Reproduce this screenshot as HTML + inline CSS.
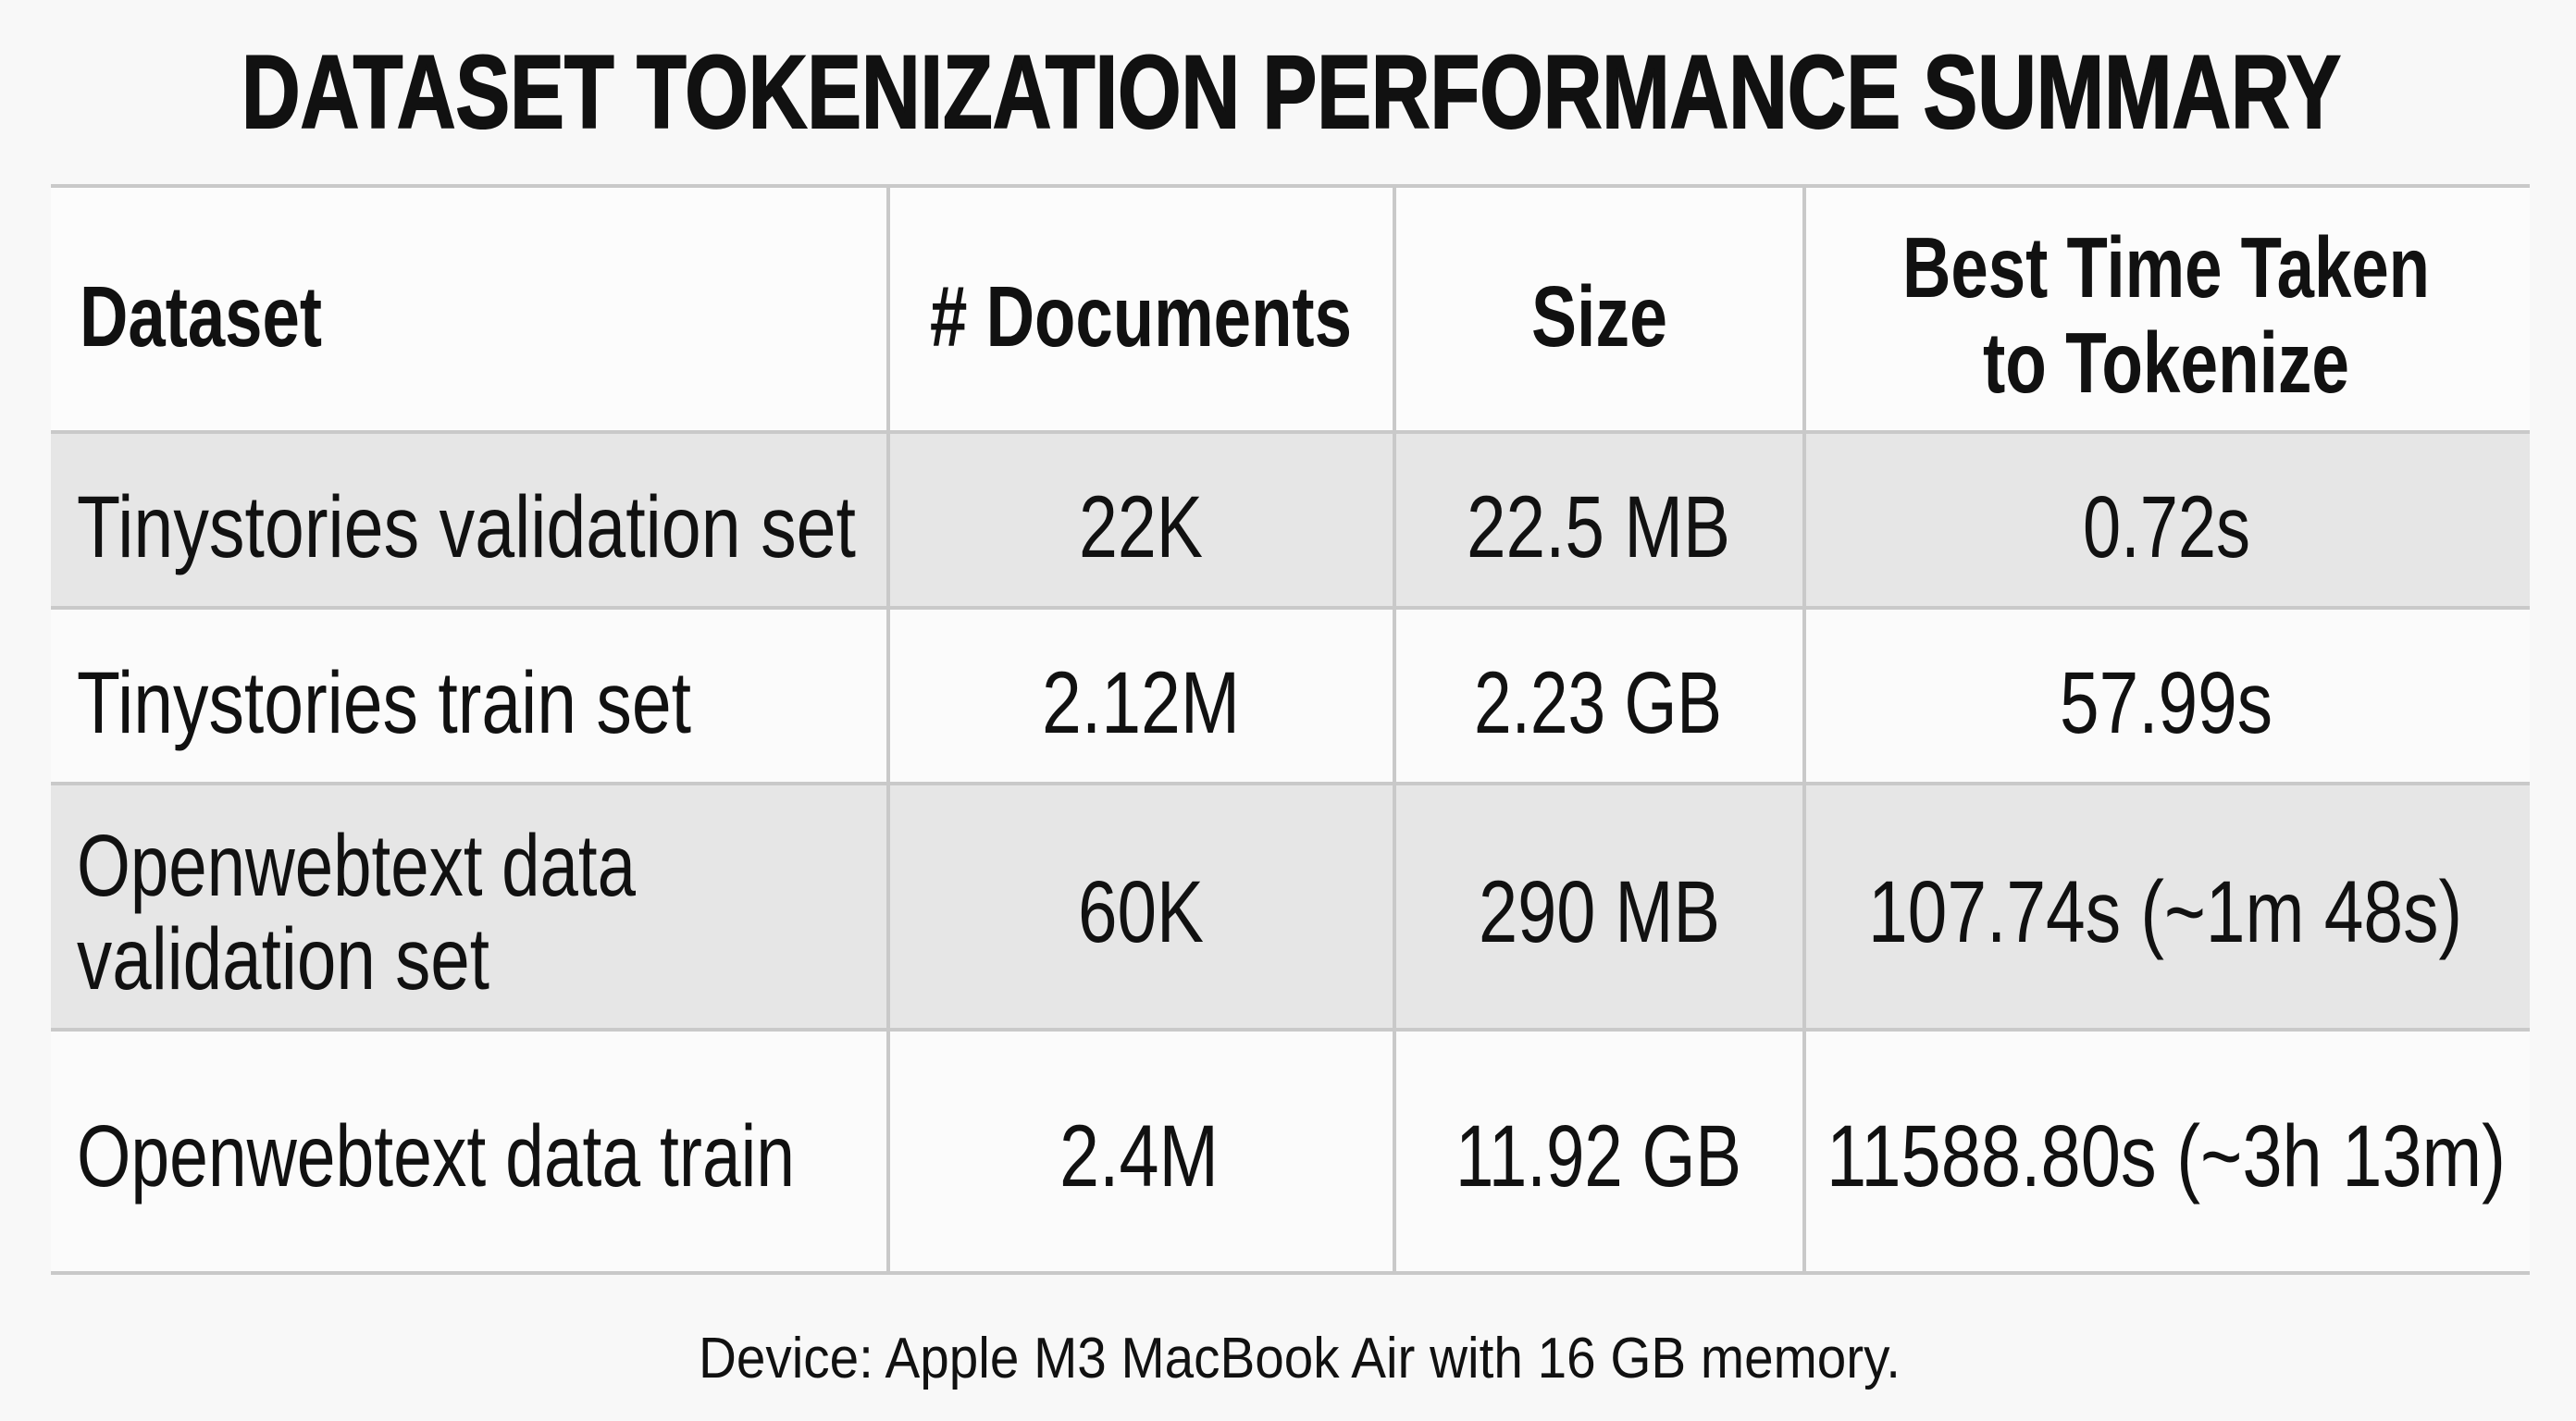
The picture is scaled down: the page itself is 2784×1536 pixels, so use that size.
<!DOCTYPE html>
<html><head><meta charset="utf-8"><style>html,body{margin:0;padding:0;background:#f8f8f8}svg{display:block}</style></head>
<body>
<svg width="2784" height="1536" viewBox="0 0 2784 1536" xmlns="http://www.w3.org/2000/svg" font-family="'Liberation Sans', sans-serif" fill="#111">
<rect x="0" y="0" width="2784" height="1536" fill="#f8f8f8"/>
<rect x="55" y="201" width="2679" height="266" fill="#fcfcfc"/>
<rect x="55" y="467" width="2679" height="190" fill="#e6e6e6"/>
<rect x="55" y="657" width="2679" height="190" fill="#fbfbfb"/>
<rect x="55" y="847" width="2679" height="266" fill="#e6e6e6"/>
<rect x="55" y="1113" width="2679" height="263" fill="#fbfbfb"/>
<g stroke="#c9c9c9" stroke-width="4">
<line x1="55" y1="201" x2="2734" y2="201"/>
<line x1="55" y1="467" x2="2734" y2="467"/>
<line x1="55" y1="657" x2="2734" y2="657"/>
<line x1="55" y1="847" x2="2734" y2="847"/>
<line x1="55" y1="1113" x2="2734" y2="1113"/>
<line x1="55" y1="1376" x2="2734" y2="1376"/>
<line x1="960" y1="201" x2="960" y2="1376"/>
<line x1="1507" y1="201" x2="1507" y2="1376"/>
<line x1="1950" y1="201" x2="1950" y2="1376"/>
</g>
<text x="261" y="138" font-size="112" font-weight="bold" textLength="2269" lengthAdjust="spacingAndGlyphs" stroke="#111" stroke-width="2">DATASET TOKENIZATION PERFORMANCE SUMMARY</text>
<g font-weight="bold" font-size="93">
<text x="86" y="374" textLength="262" lengthAdjust="spacingAndGlyphs">Dataset</text>
<text x="1005" y="374" textLength="456" lengthAdjust="spacingAndGlyphs"># Documents</text>
<text x="1655" y="374" textLength="147" lengthAdjust="spacingAndGlyphs">Size</text>
<text x="2056" y="321" textLength="570" lengthAdjust="spacingAndGlyphs">Best Time Taken</text>
<text x="2143" y="424" textLength="396" lengthAdjust="spacingAndGlyphs">to Tokenize</text>
</g>
<g font-size="95">
<text x="83" y="602" textLength="842" lengthAdjust="spacingAndGlyphs">Tinystories validation set</text>
<text x="1166" y="602" textLength="134" lengthAdjust="spacingAndGlyphs">22K</text>
<text x="1585" y="602" textLength="285" lengthAdjust="spacingAndGlyphs">22.5 MB</text>
<text x="2251" y="602" textLength="181" lengthAdjust="spacingAndGlyphs">0.72s</text>

<text x="83" y="792" textLength="664" lengthAdjust="spacingAndGlyphs">Tinystories train set</text>
<text x="1126" y="792" textLength="214" lengthAdjust="spacingAndGlyphs">2.12M</text>
<text x="1593" y="792" textLength="268" lengthAdjust="spacingAndGlyphs">2.23 GB</text>
<text x="2226" y="792" textLength="230" lengthAdjust="spacingAndGlyphs">57.99s</text>

<text x="83" y="968" textLength="604" lengthAdjust="spacingAndGlyphs">Openwebtext data</text>
<text x="83" y="1069" textLength="446" lengthAdjust="spacingAndGlyphs">validation set</text>
<text x="1165" y="1018" textLength="136" lengthAdjust="spacingAndGlyphs">60K</text>
<text x="1598" y="1018" textLength="261" lengthAdjust="spacingAndGlyphs">290 MB</text>
<text x="2019" y="1018" textLength="642" lengthAdjust="spacingAndGlyphs">107.74s (~1m 48s)</text>

<text x="83" y="1282" textLength="776" lengthAdjust="spacingAndGlyphs">Openwebtext data train</text>
<text x="1145" y="1282" textLength="172" lengthAdjust="spacingAndGlyphs">2.4M</text>
<text x="1573" y="1282" textLength="309" lengthAdjust="spacingAndGlyphs">11.92 GB</text>
<text x="1974" y="1282" textLength="734" lengthAdjust="spacingAndGlyphs">11588.80s (~3h 13m)</text>
</g>
<text x="755" y="1489" font-size="62" textLength="1299" lengthAdjust="spacingAndGlyphs">Device: Apple M3 MacBook Air with 16 GB memory.</text>
</svg>
</body></html>
